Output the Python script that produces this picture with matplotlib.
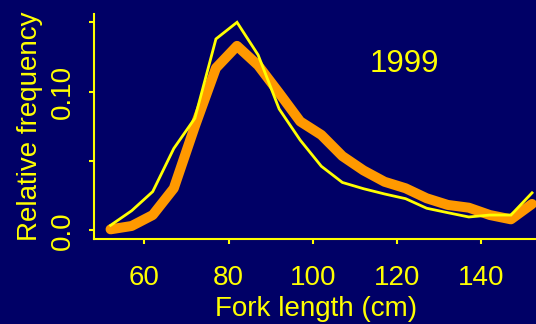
import matplotlib
matplotlib.use("Agg")
import matplotlib.pyplot as plt

# fork length classes (cm) and relative frequency of the two series
lengths = [52, 57, 62, 67, 72, 77, 82, 87, 92, 97, 102, 107, 112, 117, 122, 127, 132, 137, 142, 147, 152]
freq_thin = [0.0036, 0.0141, 0.0279, 0.059, 0.0808, 0.138, 0.150, 0.1265, 0.0875, 0.065, 0.0462,
             0.0345, 0.0300, 0.0262, 0.0228, 0.0159, 0.0127, 0.0096, 0.0110, 0.0110, 0.0270]
freq_thick = [0.0007, 0.0031, 0.0110, 0.0303, 0.0750, 0.1170, 0.1330, 0.1190, 0.0990, 0.0785, 0.0688,
              0.0535, 0.0432, 0.0350, 0.0303, 0.0231, 0.0183, 0.0163, 0.0110, 0.0079, 0.0190]
year = "1999"

bg = "#000066"
yel = "#FFFF00"
org = "#FF9900"

plt.rcParams['font.family'] = ['Liberation Sans', 'DejaVu Sans']

fig = plt.figure(figsize=(5.36, 3.24), dpi=100, facecolor=bg)
ax = fig.add_axes([0.1754, 0.2633, 0.829, 0.6935])
ax.set_facecolor(bg)

ax.plot(lengths, freq_thin, color=yel, lw=2.0, solid_joinstyle='miter', zorder=3)
ax.plot(lengths, freq_thick, color=org, lw=7.2, solid_capstyle='round', solid_joinstyle='round', zorder=2)

ax.set_xlim(48.07, 153.5)
ax.set_ylim(-0.00606, 0.156)

for s in ['top', 'right']:
    ax.spines[s].set_visible(False)
for s in ['left', 'bottom']:
    ax.spines[s].set_color(yel)
    ax.spines[s].set_linewidth(1.5)

ax.set_xticks([60, 80, 100, 120, 140])
ax.set_yticks([0.0, 0.05, 0.10, 0.15])
ax.set_yticklabels(["0.0", "", "0.10", ""], rotation=90, va='center')
ax.tick_params(colors=yel, width=1.5, length=3.8, labelsize=20)
ax.tick_params(axis='x', pad=15.5)
ax.tick_params(axis='y', pad=9)

ax.set_xlabel("Fork length (cm)", color=yel, fontsize=20, labelpad=3)
ax.set_ylabel("Relative frequency", color=yel, fontsize=20, labelpad=5)

ax.text(121.6, 0.12, year, color=yel, fontsize=22.5, ha='center', va='center')

fig.savefig("out.png", dpi=100, facecolor=bg)
